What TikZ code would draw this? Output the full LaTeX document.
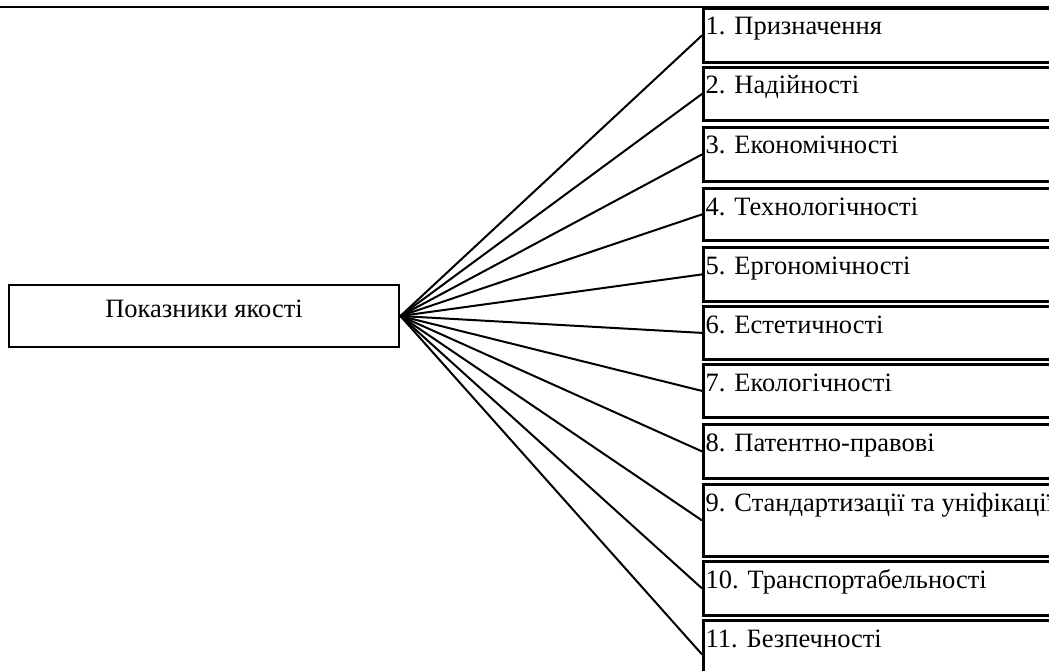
\documentclass[tikz,border=0pt]{standalone}
\usepackage{fontspec}
\setmainfont{Liberation Serif}
\begin{document}
\begin{tikzpicture}[x=1pt,y=-1pt,
  rbox/.style={draw,line width=2.8pt,rectangle,anchor=north west,minimum width=380pt,inner sep=0pt},
  cbox/.style={draw,line width=2.8pt,rectangle,minimum width=390pt,minimum height=62pt,inner sep=0pt},
  lbl/.style={anchor=base west,inner sep=0pt,font=\fontsize{26.5}{30}\selectfont},
  conn/.style={line width=2pt}]
\useasboundingbox (0,0) rectangle (1049,671);
\clip (0,0) rectangle (1049,671);
\draw[line width=2.2pt] (0,7) -- (1049,7);
\node[cbox] (c) at (204,316) {};
\node[anchor=base,inner sep=0pt,font=\fontsize{26.5}{30}\selectfont] (ct) at (204,317) {Показники якості};
\foreach \i/\t/\b/\lab in {
  1/7/61/{1. Призначення},
  2/66/119/{2. Надійності},
  3/126/180/{3. Економічності},
  4/187/239/{4. Технологічності},
  5/246/300/{5. Ергономічності},
  6/305/358/{6. Естетичності},
  7/363/416/{7. Екологічності},
  8/423/477/{8. Патентно-правові},
  9/483/555/{9. Стандартизації та уніфікації},
  10/560/614/{10. Транспортабельності},
  11/619/687/{11. Безпечності}}{
  \pgfmathsetmacro{\h}{\b-\t}
  \node[rbox,minimum height=\h pt] (b\i) at (702,\t) {};
  \node[lbl] (t\i) at ([xshift=3.5pt,yshift=-28pt]b\i.north west) {\lab};
  \draw[conn] (c.east) -- (b\i.west);
}
\end{tikzpicture}
\end{document}
